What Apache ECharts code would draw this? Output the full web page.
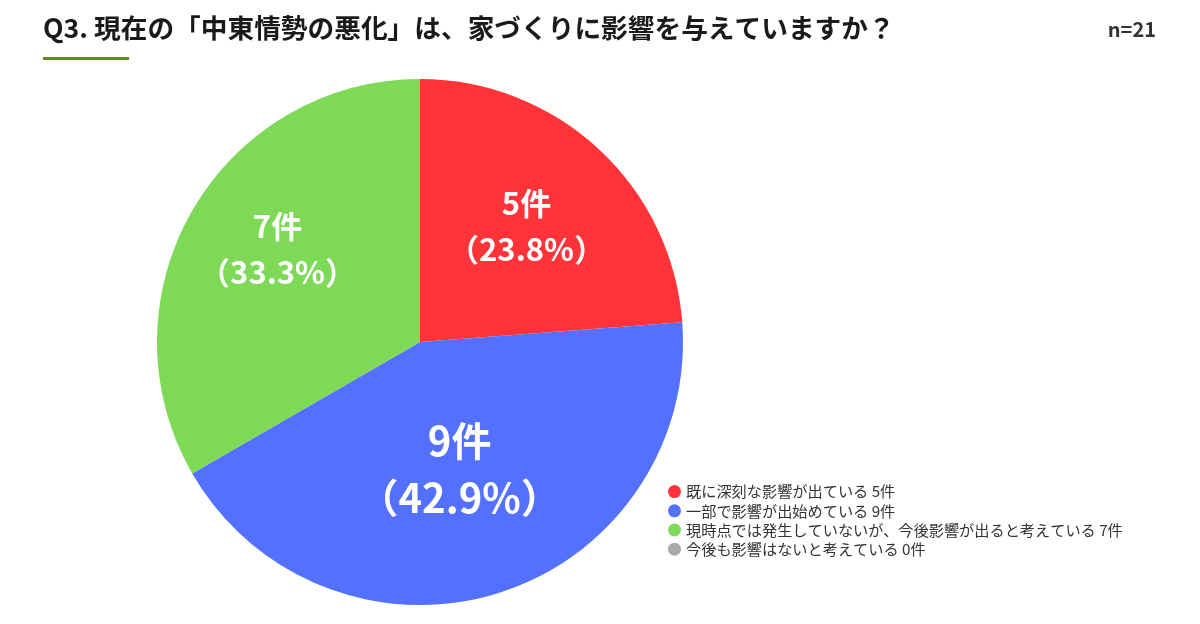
<!DOCTYPE html>
<html>
<head>
<meta charset="utf-8">
<script src="https://cdn.jsdelivr.net/npm/echarts@6/dist/echarts.min.js"></script>
<style>
  html, body { margin: 0; padding: 0; background: #fff; }
  #chart { width: 1200px; height: 624px; }
</style>
</head>
<body>
<div id="chart"></div>
<script>
var titleText = 'Q3. 現在の「中東情勢の悪化」は、家づくりに影響を与えていますか？';
var sampleText = 'n=21';
var answers = [
  '既に深刻な影響が出ている',
  '一部で影響が出始めている',
  '現時点では発生していないが、今後影響が出ると考えている',
  '今後も影響はないと考えている'
];
var counts = [5, 9, 7, 0];
var colors = ['#FF3338', '#5470FF', '#7ED957', '#A9A9A9'];
// ラベル位置の微調整 (inside からのずれ)
var labelDx = [15, 0, -26, 0];
var labelDy = [-17, -1, -26, 0];

var total = counts.reduce(function (a, b) { return a + b; }, 0);
var font = '"Noto Sans CJK JP", "Noto Sans", sans-serif';

var pieData = answers.map(function (name, i) {
  var item = { name: name, value: counts[i], itemStyle: { color: colors[i] } };
  if (counts[i] === 0) item.label = { show: false };
  if (counts[i] === 9) item.label = { fontSize: 40, lineHeight: 57 };
  return item;
});

var myChart = echarts.init(document.getElementById('chart'));
myChart.setOption({
  animation: false,
  title: [
    {
      text: titleText,
      left: 43,
      top: 15,
      padding: 0,
      textStyle: { fontFamily: font, fontSize: 26.7, fontWeight: 'bold', color: '#1a1a1a' }
    },
    {
      text: sampleText,
      right: 44,
      top: 19,
      padding: 0,
      textStyle: { fontFamily: font, fontSize: 20, fontWeight: 'bold', color: '#333' }
    }
  ],
  graphic: [
    { type: 'rect', shape: { x: 43, y: 57, width: 86, height: 3 }, style: { fill: '#5B8C1E' } }
  ],
  legend: {
    orient: 'vertical',
    left: 668,
    top: 484,
    padding: 0,
    icon: 'circle',
    itemWidth: 13,
    itemHeight: 13,
    itemGap: 4,
    selectedMode: false,
    textStyle: { fontFamily: font, fontSize: 15.2, lineHeight: 13, color: '#333' },
    formatter: function (name) {
      return name + ' ' + counts[answers.indexOf(name)] + '件';
    },
    data: answers
  },
  series: [{
    type: 'pie',
    center: [420, 342],
    radius: [0, 263],
    startAngle: 90,
    clockwise: true,
    stillShowZeroSum: true,
    avoidLabelOverlap: false,
    label: {
      show: true,
      position: 'inside',
      color: '#fff',
      fontFamily: font,
      fontSize: 31,
      fontWeight: 'bold',
      lineHeight: 46,
      formatter: function (p) {
        return p.value + '件\n（' + (p.value / total * 100).toFixed(1) + '%）';
      }
    },
    labelLine: { show: false },
    labelLayout: function (p) {
      return { dx: labelDx[p.dataIndex], dy: labelDy[p.dataIndex] };
    },
    emphasis: { disabled: true },
    data: pieData
  }]
});
</script>
</body>
</html>
